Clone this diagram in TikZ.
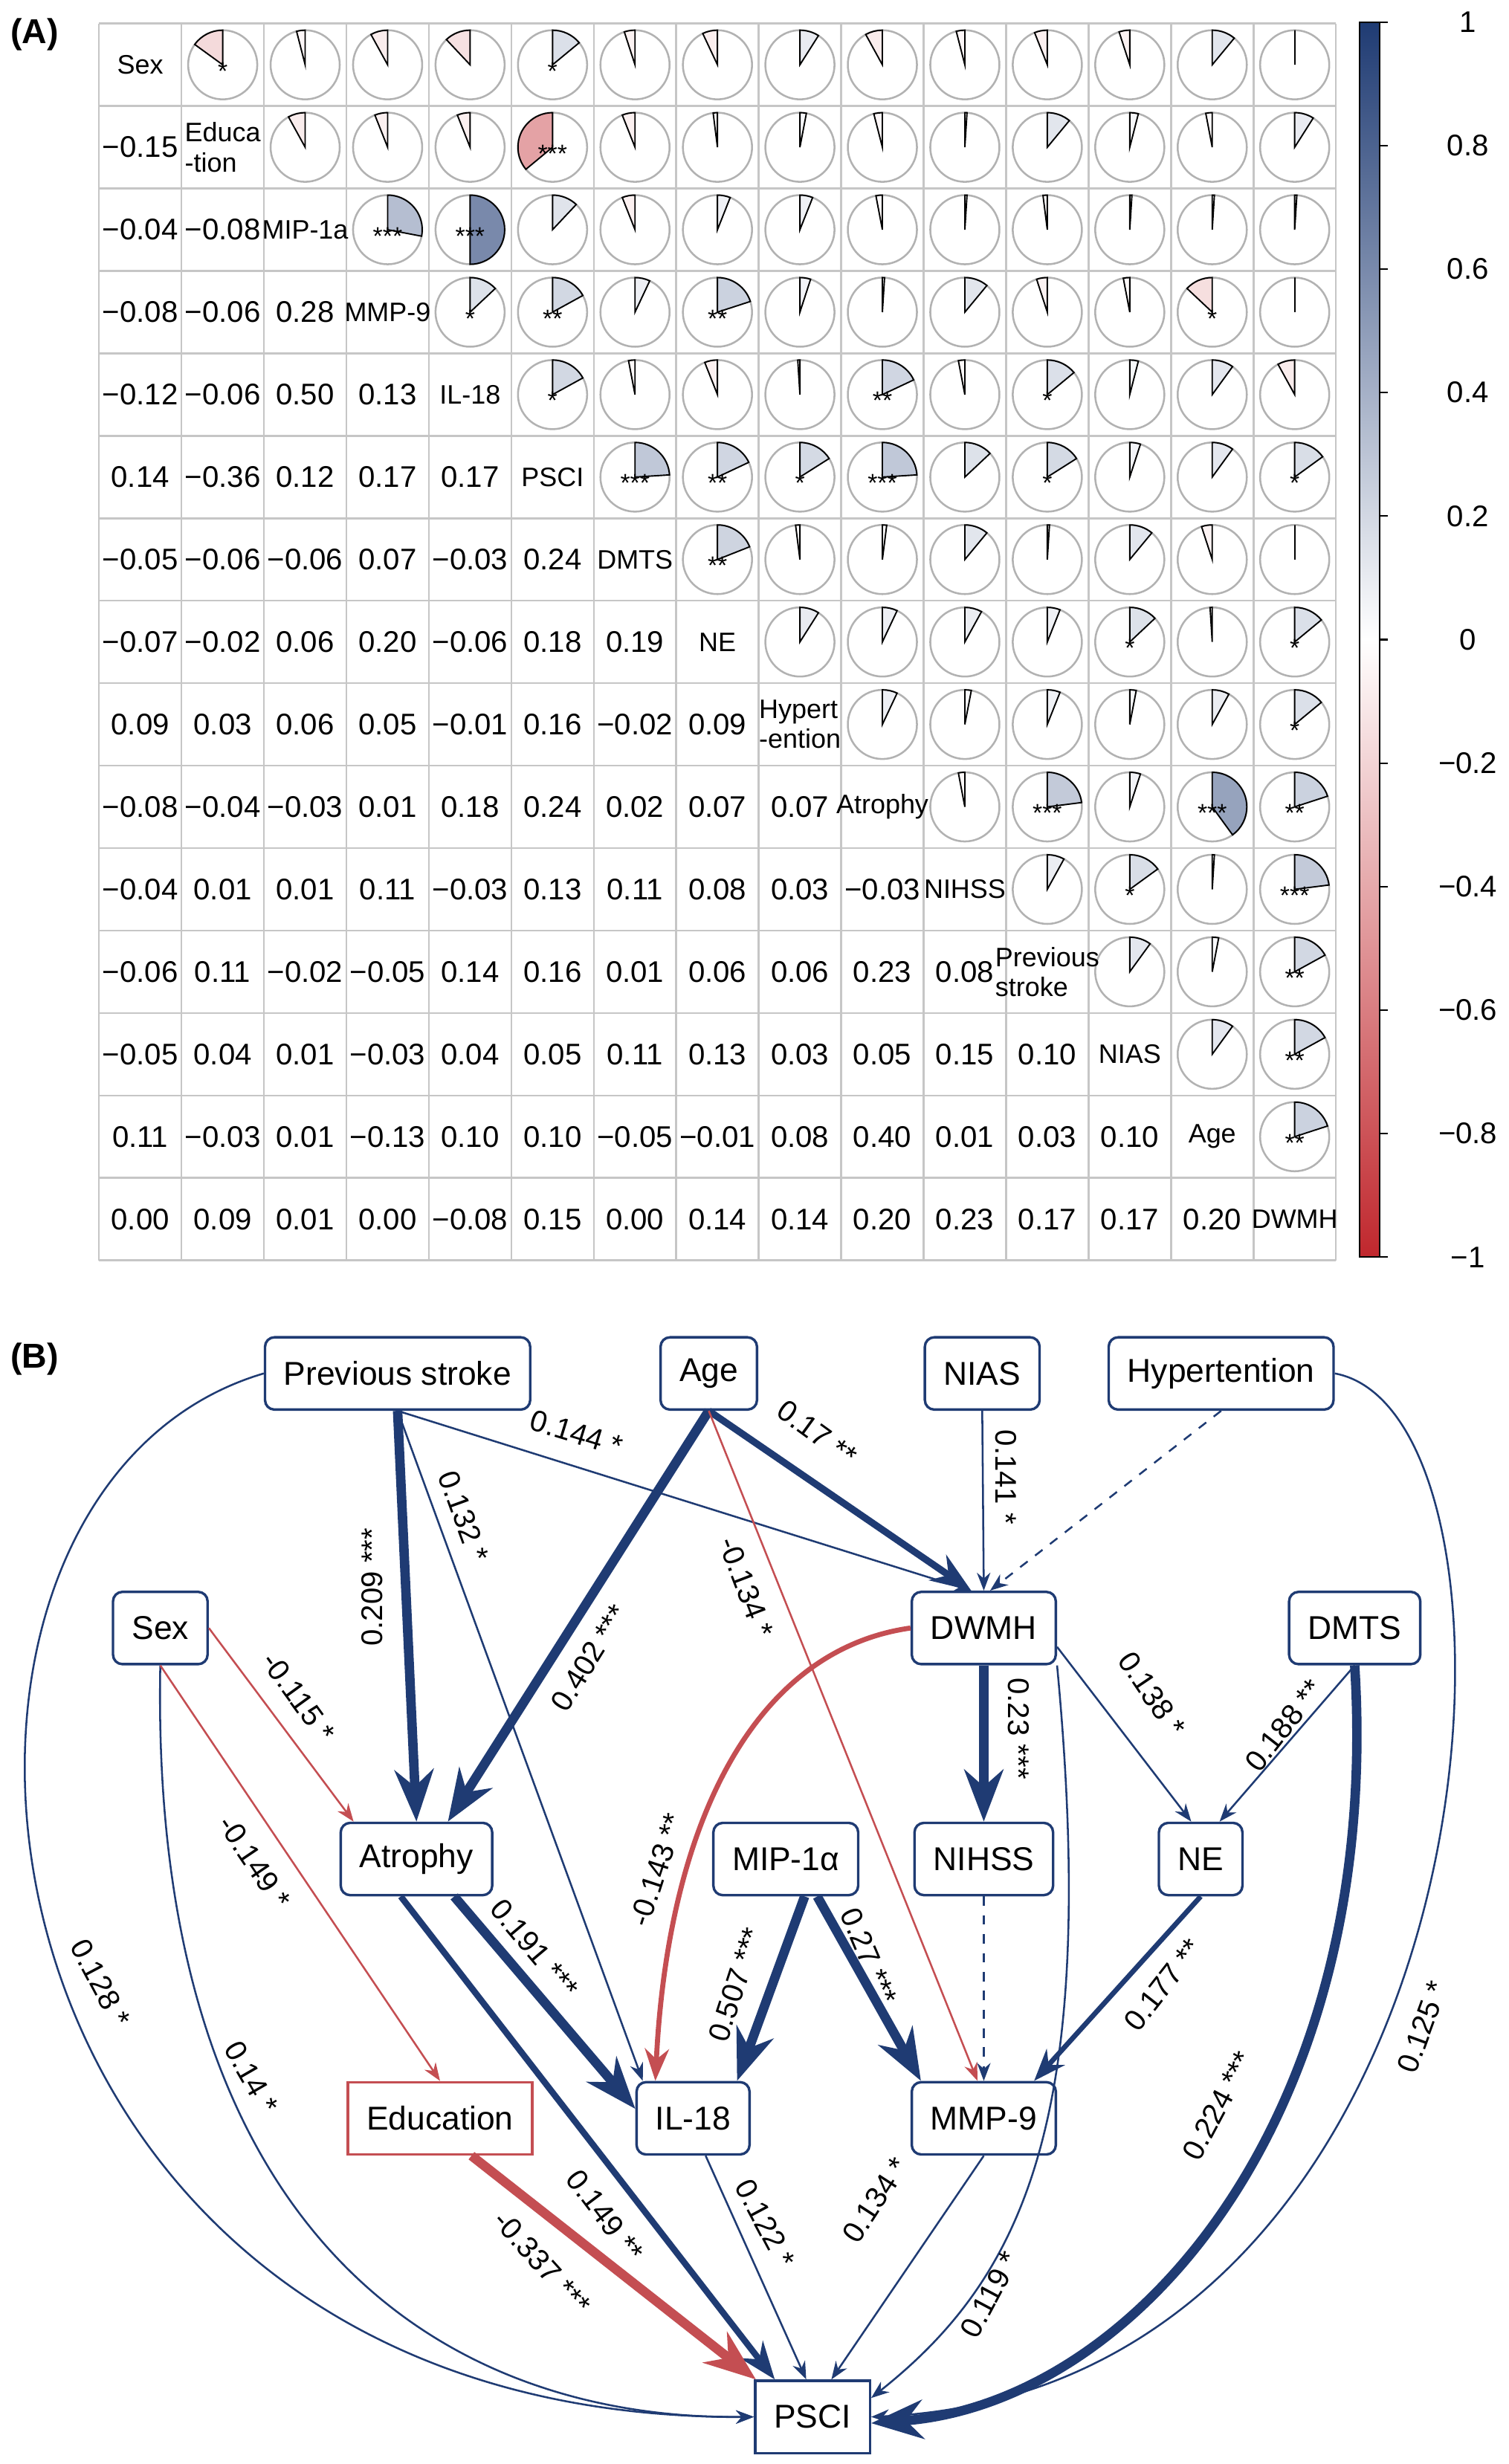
\documentclass[tikz,border=0pt]{standalone}
\usepackage{fontspec}
\setmainfont{Liberation Sans}
\usetikzlibrary{arrows.meta}
\definecolor{navyc}{HTML}{1F3B73}
\definecolor{redc}{HTML}{C0272D}
\definecolor{ered}{HTML}{C44E52}
\begin{document}
\begin{tikzpicture}[x=0.5pt,y=-0.5pt,
  box/.style={draw=navyc, line width=0.8pt, rounded corners=3pt, fill=white, minimum height=23pt, inner xsep=6pt, font=\fontsize{10.5}{12}\selectfont},
  sqbox/.style={box, rounded corners=0pt},
  ln/.style={navyc, line width=0.6pt, -{Stealth}},
  md/.style={navyc, line width=1.6pt, -{Stealth}},
  tk/.style={navyc, line width=3pt, -{Stealth}},
  lbl/.style={font=\fontsize{9.5}{11}\selectfont, inner sep=1pt},
  mnum/.style={font=\fontsize{9.5}{11}\selectfont},
  mname/.style={font=\fontsize{8.5}{9.5}\selectfont, align=left, inner sep=0pt},
  mstar/.style={font=\fontsize{8}{9}\selectfont, inner sep=0pt}]
\useasboundingbox (0,0) rectangle (960,1568);
\node[font=\bfseries\fontsize{11}{13}\selectfont] (tA) at (22,22) {(A)};
\node[font=\bfseries\fontsize{11}{13}\selectfont] (tB) at (22,865) {(B)};
% grid
\foreach \i in {0,...,15}{
  \pgfmathsetmacro\gp{63+\i*52.47}
  \pgfmathsetmacro\gq{15+\i*52.47}
  \draw[gray!45, line width=0.6pt] (\gp,15) -- (\gp,802);
  \draw[gray!45, line width=0.6pt] (63,\gq) -- (850,\gq);
}
% data
\foreach \r/\vals in {2/{-0.15},3/{-0.04,-0.08},4/{-0.08,-0.06,0.28},5/{-0.12,-0.06,0.50,0.13},
 6/{0.14,-0.36,0.12,0.17,0.17},7/{-0.05,-0.06,-0.06,0.07,-0.03,0.24},
 8/{-0.07,-0.02,0.06,0.20,-0.06,0.18,0.19},9/{0.09,0.03,0.06,0.05,-0.01,0.16,-0.02,0.09},
 10/{-0.08,-0.04,-0.03,0.01,0.18,0.24,0.02,0.07,0.07},
 11/{-0.04,0.01,0.01,0.11,-0.03,0.13,0.11,0.08,0.03,-0.03},
 12/{-0.06,0.11,-0.02,-0.05,0.14,0.16,0.01,0.06,0.06,0.23,0.08},
 13/{-0.05,0.04,0.01,-0.03,0.04,0.05,0.11,0.13,0.03,0.05,0.15,0.10},
 14/{0.11,-0.03,0.01,-0.13,0.10,0.10,-0.05,-0.01,0.08,0.40,0.01,0.03,0.10},
 15/{0.00,0.09,0.01,0.00,-0.08,0.15,0.00,0.14,0.14,0.20,0.23,0.17,0.17,0.20}}{
 \foreach \v [count=\c] in \vals {
  \pgfmathsetmacro\xc{63+(\c-0.5)*52.47}
  \pgfmathsetmacro\yr{15+(\r-0.5)*52.47}
  \pgfmathsetmacro\xr{63+(\r-0.5)*52.47}
  \pgfmathsetmacro\yc{15+(\c-0.5)*52.47}
  \pgfmathsetmacro\av{abs(\v)}
  \node[mnum] at (\xc,\yr) {\ifdim \v pt<0pt −\fi\pgfmathprintnumber[fixed,fixed zerofill,precision=2,assume math mode=true]{\av}};
  \pgfmathsetmacro\sweep{360*\v}
  \pgfmathtruncatemacro\pct{min(100,\av*120)}
  \ifdim \v pt<0pt \def\pc{redc}\else\def\pc{navyc}\fi
  \draw[gray!60, line width=0.6pt, fill=white] (\xr,\yc) circle[radius=11pt];
  \filldraw[fill=\pc!\pct!white, draw=black, line width=0.45pt] (\xr,\yc) -- ++(90:11pt) arc[start angle=90, end angle={90-\sweep}, radius=11pt] -- cycle;
 }}
\foreach \r/\c/\s in {1/2/*,1/6/*,2/6/***,3/4/***,3/5/***,4/5/*,4/6/**,4/8/**,4/14/*,5/6/*,5/10/**,5/12/*,
 6/7/***,6/8/**,6/9/*,6/10/***,6/12/*,6/15/*,7/8/**,8/13/*,8/15/*,9/15/*,10/12/***,10/14/***,10/15/**,
 11/13/*,11/15/***,12/15/**,13/15/**,14/15/**}{
  \pgfmathsetmacro\xs{63+(\c-0.5)*52.47}
  \pgfmathsetmacro\ys{15+(\r-0.5)*52.47+4}
  \node[mstar] at (\xs,\ys) {\s};
}
\foreach \i/\n in {1/Sex,2/{Educa\\-tion},3/MIP-1a,4/MMP-9,5/IL-18,6/PSCI,7/DMTS,8/NE,9/{Hypert\\-ention},
 10/Atrophy,11/NIHSS,12/{Previous\\stroke},13/NIAS,14/Age,15/DWMH}{
  \pgfmathsetmacro\xd{63+(\i-0.5)*52.47}
  \pgfmathsetmacro\yd{15+(\i-0.5)*52.47}
  \node[mname] at (\xd,\yd) {\n};
}
% colorbar
\shade[top color=navyc, bottom color=white] (865,14) rectangle (878,407);
\shade[top color=white, bottom color=redc] (865,407) rectangle (878,800);
\draw[black, line width=0.5pt] (865,14) rectangle (878,800);
\foreach \k/\t in {0/1,1/0.8,2/0.6,3/0.4,4/0.2,5/0,6/−0.2,7/−0.4,8/−0.6,9/−0.8,10/−1}{
  \pgfmathsetmacro\yk{14+\k*78.6}
  \draw[line width=0.5pt] (878,\yk) -- (883,\yk);
  \node[mnum] at (934,\yk) {\t};
}
% ---------------- (B)
\node[box] (prev) at (253,874) {Previous stroke};
\node[box] (age) at (451,874) {Age};
\node[box] (nias) at (625,874) {NIAS};
\node[box] (hyp) at (777,874) {Hypertention};
\node[box] (sex) at (102,1036) {Sex};
\node[box] (dwmh) at (626,1036) {DWMH};
\node[box] (dmts) at (862,1036) {DMTS};
\node[box] (atr) at (265,1183) {Atrophy};
\node[box] (mip) at (500,1183) {MIP-1α};
\node[box] (nihss) at (626,1183) {NIHSS};
\node[box] (ne) at (764,1183) {NE};
\node[sqbox, draw=ered] (edu) at (280,1348) {Education};
\node[box] (il) at (441,1348) {IL-18};
\node[box] (mmp) at (626,1348) {MMP-9};
\node[sqbox] (psci) at (517,1538) {PSCI};
% edges
\draw[ln] (prev.west) .. controls (-90,950) and (-40,1540) .. (psci.west);
\draw[ln] (hyp.east) .. controls (990,900) and (960,1520) .. (psci.east);
\draw[ln] (sex.south) .. controls (95,1420) and (280,1540) .. (psci.west);
\draw[ln] (prev.south) -- ([xshift=-16pt]il.north);
\draw[ln] (prev.south) -- ([xshift=-4pt]dwmh.north);
\draw[tk] (prev.south) -- (atr.north);
\draw[tk] (age.south) -- ([xshift=10pt]atr.north);
\draw[tk, line width=2.2pt] (age.south) -- ([xshift=-4pt]dwmh.north);
\draw[ln, ered] (age.south) -- ([xshift=-2pt]mmp.north);
\draw[ln] (nias.south) -- (dwmh.north);
\draw[ln, dashed] (hyp.south) -- ([xshift=2pt]dwmh.north);
\draw[ln, ered] (sex.east) -- ([xshift=-20pt]atr.north);
\draw[ln, ered] (sex.south) -- (edu.north);
\draw[md, ered] (dwmh.west) .. controls (480,1050) and (425,1160) .. ([xshift=-12pt]il.north);
\draw[tk] (dwmh.south) -- (nihss.north);
\draw[ln] ([yshift=-6pt]dwmh.east) -- ([xshift=-3pt]ne.north);
\draw[ln] (dwmh.south east) .. controls (700,1350) and (650,1450) .. ([yshift=6pt]psci.east);
\draw[ln] (dmts.south) -- ([xshift=6pt]ne.north);
\draw[tk] (dmts.south) .. controls (880,1350) and (720,1530) .. ([yshift=-2pt]psci.east);
\draw[tk] ([xshift=12pt]atr.south) -- ([yshift=3pt]il.west);
\draw[md, line width=2pt] ([xshift=-5pt]atr.south) -- ([xshift=-12pt]psci.north);
\draw[tk] ([xshift=6pt]mip.south) -- ([xshift=14pt]il.north);
\draw[tk] ([xshift=10pt]mip.south) -- ([xshift=-20pt]mmp.north);
\draw[ln, dashed] (nihss.south) -- (mmp.north);
\draw[md] (ne.south) -- ([xshift=16pt]mmp.north);
\draw[tk, ered] ([xshift=10pt]edu.south) -- ([xshift=-18pt]psci.north);
\draw[ln] ([xshift=4pt]il.south) -- ([xshift=-2pt]psci.north);
\draw[ln] (mmp.south) -- ([xshift=6pt]psci.north);
% labels
\node[lbl, rotate=90] (l1) at (237,1010) {0.209 ***};
\node[lbl, rotate=-70] (l2) at (295,965) {0.132 *};
\node[lbl, rotate=-17] (l3) at (367,912) {0.144 *};
\node[lbl, rotate=-62] (l4) at (64,1262) {0.128 *};
\node[lbl, rotate=58] (l5) at (375,1055) {0.402 ***};
\node[lbl, rotate=-36] (l6) at (520,912) {0.17 **};
\node[lbl, rotate=-69] (l7) at (475,1010) {-0.134 *};
\node[lbl, rotate=-90] (l8) at (640,940) {0.141 *};
\node[lbl, rotate=-54] (l9) at (190,1080) {-0.115 *};
\node[lbl, rotate=-56] (l10) at (162,1185) {-0.149 *};
\node[lbl, rotate=-60] (l11) at (160,1322) {0.14 *};
\node[lbl, rotate=72] (l12) at (418,1190) {-0.143 **};
\node[lbl, rotate=-90] (l13) at (648,1100) {0.23 ***};
\node[lbl, rotate=-56] (l14) at (733,1078) {0.138 *};
\node[lbl, rotate=52] (l15) at (817,1098) {0.188 **};
\node[lbl, rotate=62] (l16) at (775,1340) {0.224 ***};
\node[lbl, rotate=70] (l17) at (905,1290) {0.125 *};
\node[lbl, rotate=-50] (l18) at (340,1240) {0.191 ***};
\node[lbl, rotate=-53] (l19) at (385,1410) {0.149 **};
\node[lbl, rotate=72] (l20) at (468,1263) {0.507 ***};
\node[lbl, rotate=-67] (l21) at (553,1245) {0.27 ***};
\node[lbl, rotate=52] (l22) at (740,1263) {0.177 **};
\node[lbl, rotate=-48] (l23) at (345,1440) {-0.337 ***};
\node[lbl, rotate=-62] (l24) at (487,1415) {0.122 *};
\node[lbl, rotate=57] (l25) at (557,1400) {0.134 *};
\node[lbl, rotate=62] (l26) at (630,1460) {0.119 *};
\end{tikzpicture}
\end{document}
